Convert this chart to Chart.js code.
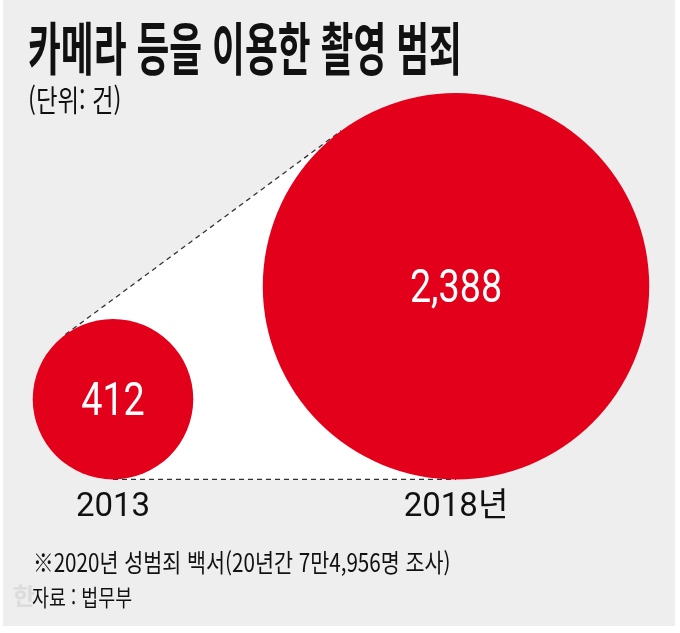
<!DOCTYPE html>
<html lang="ko">
<head>
<meta charset="utf-8">
<title>카메라 등을 이용한 촬영 범죄</title>
<script src="https://cdn.jsdelivr.net/npm/chart.js@4.4.1/dist/chart.umd.min.js"></script>
<style>
  html, body { margin: 0; padding: 0; background: #fff; }
  #wrap { position: relative; width: 680px; height: 633px; overflow: hidden; }
  #panel { position: absolute; left: 3px; top: 0; width: 672px; height: 626px; background: #eeeeee; }
  #chart-box { position: absolute; left: 0; top: 0; width: 680px; height: 633px; }
  .txt { position: absolute; white-space: nowrap; transform-origin: left top; font-family: 'Noto Sans CJK KR', sans-serif; color: #111; }
  #title { left: 28px; top: 17px; font-size: 57px; line-height: 57px; font-weight: 700; transform: scaleX(0.626); }
  #unit { left: 28px; top: 82px; font-size: 30px; line-height: 33px; font-weight: 400; transform: scaleX(0.78); }
  #note { left: 33px; top: 547px; font-size: 25px; line-height: 28px; transform: scaleX(0.826); }
  #source { left: 32px; top: 583px; font-size: 23px; line-height: 26px; transform: scaleX(0.8); }
  #mark { left: 13px; top: 582px; font-size: 24px; line-height: 26px; font-weight: 700; color: #dcdcdc; }
</style>
</head>
<body>
<div id="wrap">
  <div id="panel"></div>
  <div class="txt" id="mark">한</div>
  <div id="chart-box"><canvas id="chart"></canvas></div>
  <div class="txt" id="title">카메라 등을 이용한 촬영 범죄</div>
  <div class="txt" id="unit">(단위: 건)</div>
  <div class="txt" id="note">※2020년 성범죄 백서(20년간 7만4,956명 조사)</div>
  <div class="txt" id="source">자료 : 법무부</div>
</div>
<script>
// 연도별 카메라 이용 촬영 범죄 건수
const years = ['2013', '2018년'];
const cases = [412, 2388];
const caseLabels = ['412', '2,388'];

const RED = '#e2001a';

// circle area follows the count: radius is sqrt(count) in y-axis units
function radiusPx(ctx) {
  const y = ctx.chart.scales.y;
  if (!y || ctx.dataIndex === undefined) return 0;
  const r = y.getPixelForValue(0) - y.getPixelForValue(Math.sqrt(cases[ctx.dataIndex]));
  return isFinite(r) && r > 0 ? r : 0;
}

// white hull + dashed tangents between the two circles
const hullPlugin = {
  id: 'hull',
  beforeDatasetsDraw(chart) {
    const pts = chart.getDatasetMeta(0).data;
    if (pts.length < 2) return;
    const a = pts[0], b = pts[1];
    const ra = a.options.radius, rb = b.options.radius;
    const dx = b.x - a.x, dy = b.y - a.y;
    const d = Math.hypot(dx, dy);
    const ang = Math.atan2(dy, dx);
    const phi = Math.acos((ra - rb) / d);
    const n1 = [Math.cos(ang - phi), Math.sin(ang - phi)];
    const n2 = [Math.cos(ang + phi), Math.sin(ang + phi)];
    const ta = [a.x + ra * n1[0], a.y + ra * n1[1]];
    const tb = [b.x + rb * n1[0], b.y + rb * n1[1]];
    const ba = [a.x + ra * n2[0], a.y + ra * n2[1]];
    const bb = [b.x + rb * n2[0], b.y + rb * n2[1]];
    const ctx = chart.ctx;
    ctx.save();
    ctx.fillStyle = '#ffffff';
    ctx.beginPath();
    ctx.moveTo(ta[0], ta[1]);
    ctx.lineTo(tb[0], tb[1]);
    ctx.lineTo(bb[0], bb[1]);
    ctx.lineTo(ba[0], ba[1]);
    ctx.closePath();
    ctx.fill();
    ctx.strokeStyle = '#333';
    ctx.lineWidth = 1.3;
    ctx.setLineDash([5, 4]);
    ctx.beginPath();
    ctx.moveTo(ta[0], ta[1]);
    ctx.lineTo(tb[0], tb[1]);
    ctx.moveTo(ba[0], ba[1]);
    ctx.lineTo(bb[0], bb[1]);
    ctx.stroke();
    ctx.restore();
  }
};

// counts written inside the circles
const valuePlugin = {
  id: 'values',
  afterDatasetsDraw(chart) {
    const ctx = chart.ctx;
    chart.getDatasetMeta(0).data.forEach((p, i) => {
      ctx.save();
      ctx.translate(p.x, p.y + 16);
      ctx.scale(0.82, 1);
      ctx.fillStyle = '#ffffff';
      ctx.font = '400 46px Roboto, sans-serif';
      ctx.textAlign = 'center';
      ctx.textBaseline = 'alphabetic';
      ctx.fillText(caseLabels[i], 0, 0);
      ctx.restore();
    });
  }
};

new Chart(document.getElementById('chart'), {
  type: 'line',
  data: {
    labels: years,
    datasets: [{
      data: cases.map(v => Math.sqrt(v)),
      showLine: false,
      clip: false,
      pointRadius: radiusPx,
      pointHoverRadius: radiusPx,
      pointBackgroundColor: RED,
      pointBorderWidth: 0,
      pointHoverBorderWidth: 0
    }]
  },
  options: {
    responsive: true,
    maintainAspectRatio: false,
    animation: false,
    events: [],
    layout: { autoPadding: false, padding: { top: 84, left: 113, right: 224, bottom: 96 } },
    plugins: { legend: { display: false }, tooltip: { enabled: false } },
    scales: {
      x: {
        type: 'category',
        offset: false,
        grid: { display: false, drawTicks: false },
        border: { display: false },
        ticks: {
          color: '#111',
          padding: 9,
          maxRotation: 0,
          autoSkip: false,
          font: { family: 'Roboto, "Noto Sans CJK KR", sans-serif', size: 33 }
        }
      },
      y: { display: false, min: 0, max: 100 }
    }
  },
  plugins: [hullPlugin, valuePlugin]
});
</script>
</body>
</html>
